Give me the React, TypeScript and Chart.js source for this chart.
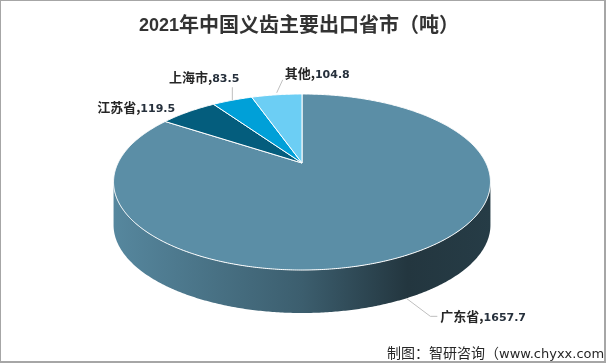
import React, { useEffect, useRef } from 'react';
import { Chart, registerables, ArcElement, PieController } from 'chart.js';

// ---- data ----
const TITLE_YEAR = '2021';
const TITLE_REST = '年中国义齿主要出口省市（吨）';
const SOURCE_CN = '制图：智研咨询（';
const SOURCE_URL = 'www.chyxx.com';
const SOURCE_END = '）';

const categories = ['广东省', '江苏省', '上海市', '其他'];
const values = [1657.7, 119.5, 83.5, 104.8];

// ---- styles ----
const sliceColors = ['#5b8ea6', '#045d7d', '#00a0d8', '#6ccef4'];
const TILT = 0.456; // vertical squash of the pie top
const PERSP = 0.216; // perspective strength (back smaller)
const DEPTH = 43; // pie thickness in px
const RADIUS = 184;

type LabelLayout = { leader: [number, number][] | null; dx: number; dy: number; align: 'left' | 'right' };
const labelLayouts: LabelLayout[] = [
  { leader: [[-3, 1], [21, 19], [28, 19]], dx: 31, dy: 19, align: 'left' },
  { leader: null, dx: -13, dy: -5, align: 'right' },
  { leader: [[0, 0], [0, -13]], dx: 7, dy: -23, align: 'right' },
  { leader: [[0, -2], [6, -15]], dx: 8, dy: -22, align: 'left' },
];

const NAME_FONT = "bold 13px 'Noto Sans CJK SC'";
const VALUE_FONT = "bold 11px 'DejaVu Sans'";
const TEXT_COLOR = '#262626';
const VALUE_COLOR = '#26303c';

function project(cx: number, cy: number, r: number, theta: number, dz = 0): [number, number] {
  const u = Math.sin(theta);
  const v = Math.cos(theta);
  const w = 1 + PERSP * v;
  return [cx + (r * u) / w, cy - (r * TILT * v) / w + dz];
}

function shade(hex: string, f: number): string {
  const n = parseInt(hex.slice(1), 16);
  const r = Math.round(((n >> 16) & 255) * f);
  const g = Math.round(((n >> 8) & 255) * f);
  const b = Math.round((n & 255) * f);
  return `rgb(${r},${g},${b})`;
}

class Arc3D extends ArcElement {
  static id = 'arc3d';
  draw(ctx: CanvasRenderingContext2D) {
    const p: any = (this as any).getProps(['x', 'y', 'startAngle', 'endAngle', 'outerRadius']);
    const o: any = (this as any).options;
    const a0 = p.startAngle + Math.PI / 2;
    const a1 = p.endAngle + Math.PI / 2;
    const n = Math.max(2, Math.ceil((a1 - a0) / (Math.PI / 360)));
    ctx.save();
    ctx.beginPath();
    ctx.moveTo(p.x, p.y);
    for (let i = 0; i <= n; i++) {
      const t = a0 + ((a1 - a0) * i) / n;
      const [px, py] = project(p.x, p.y, p.outerRadius, t);
      ctx.lineTo(px, py);
    }
    ctx.closePath();
    ctx.fillStyle = o.backgroundColor;
    ctx.fill();
    if (o.borderWidth) {
      ctx.lineWidth = o.borderWidth;
      ctx.strokeStyle = o.borderColor;
      ctx.lineJoin = 'round';
      ctx.stroke();
    }
    ctx.restore();
  }
}

class Pie3DController extends PieController {
  static id = 'pie3d';
  static defaults = { dataElementType: 'arc3d' };
}

Chart.register(...registerables, Arc3D as any, Pie3DController as any);

const sidePlugin = {
  id: 'side3d',
  beforeDatasetsDraw(chart: any) {
    const ctx: CanvasRenderingContext2D = chart.ctx;
    const meta = chart.getDatasetMeta(0);
    const lo = Math.acos(-PERSP);
    const hi = 2 * Math.PI - lo;
    meta.data.forEach((arc: any, i: number) => {
      const p = arc.getProps(['x', 'y', 'startAngle', 'endAngle', 'outerRadius']);
      const a = Math.max(p.startAngle + Math.PI / 2, lo);
      const b = Math.min(p.endAngle + Math.PI / 2, hi);
      if (b <= a) return;
      const ext = p.outerRadius / Math.sqrt(1 - PERSP * PERSP);
      const base = sliceColors[i];
      const g = ctx.createLinearGradient(p.x - ext, 0, p.x + ext, 0);
      g.addColorStop(0, shade(base, 0.95));
      g.addColorStop(0.5, shade(base, 0.66));
      g.addColorStop(0.78, shade(base, 0.38));
      g.addColorStop(1, shade(base, 0.42));
      const n = Math.max(2, Math.ceil((b - a) / (Math.PI / 360)));
      ctx.save();
      ctx.beginPath();
      for (let k = 0; k <= n; k++) {
        const t = a + ((b - a) * k) / n;
        const [px, py] = project(p.x, p.y, p.outerRadius, t);
        if (k === 0) ctx.moveTo(px, py);
        else ctx.lineTo(px, py);
      }
      for (let k = n; k >= 0; k--) {
        const t = a + ((b - a) * k) / n;
        const [px, py] = project(p.x, p.y, p.outerRadius, t, DEPTH);
        ctx.lineTo(px, py);
      }
      ctx.closePath();
      ctx.fillStyle = g;
      ctx.fill();
      ctx.restore();
    });
  },
};

const labelPlugin = {
  id: 'labels3d',
  afterDatasetsDraw(chart: any) {
    const ctx: CanvasRenderingContext2D = chart.ctx;
    const meta = chart.getDatasetMeta(0);
    meta.data.forEach((arc: any, i: number) => {
      const p = arc.getProps(['x', 'y', 'startAngle', 'endAngle', 'outerRadius']);
      const mid = (p.startAngle + p.endAngle) / 2 + Math.PI / 2;
      const front = Math.cos(mid) < 0;
      const [ax, ay] = project(p.x, p.y, p.outerRadius, mid, front ? DEPTH : 0);
      const L = labelLayouts[i];
      ctx.save();
      if (L.leader) {
        ctx.beginPath();
        L.leader.forEach(([dx, dy], k) => {
          if (k === 0) ctx.moveTo(ax + dx, ay + dy);
          else ctx.lineTo(ax + dx, ay + dy);
        });
        ctx.strokeStyle = '#bfbfbf';
        ctx.lineWidth = 1;
        ctx.stroke();
      }
      const name = categories[i] + ',';
      const val = values[i].toFixed(1);
      ctx.font = NAME_FONT;
      const wn = ctx.measureText(name).width;
      ctx.font = VALUE_FONT;
      const wv = ctx.measureText(val).width;
      let tx = ax + L.dx;
      if (L.align === 'right') tx -= wn + wv;
      const by = ay + L.dy + 5;
      ctx.textAlign = 'left';
      ctx.textBaseline = 'alphabetic';
      ctx.font = NAME_FONT;
      ctx.fillStyle = TEXT_COLOR;
      ctx.fillText(name, tx, by);
      ctx.font = VALUE_FONT;
      ctx.fillStyle = VALUE_COLOR;
      ctx.fillText(val, tx + wn, by);
      ctx.restore();
    });
  },
};

const framePlugin = {
  id: 'frame',
  afterDraw(chart: any) {
    const ctx: CanvasRenderingContext2D = chart.ctx;
    const W = chart.width;
    const H = chart.height;
    ctx.save();
    // title
    const yearFont = "bold 18px 'Liberation Sans'";
    const restFont = "bold 20px 'Noto Sans CJK SC'";
    ctx.font = yearFont;
    const wy = ctx.measureText(TITLE_YEAR).width;
    ctx.font = restFont;
    const wr = ctx.measureText(TITLE_REST).width;
    const tx = 299 - (wy + wr) / 2;
    ctx.textBaseline = 'alphabetic';
    ctx.textAlign = 'left';
    ctx.fillStyle = '#333333';
    ctx.font = yearFont;
    ctx.fillText(TITLE_YEAR, tx, 31);
    ctx.font = restFont;
    ctx.fillText(TITLE_REST, tx + wy, 32);
    // source
    const cnFont = "14px 'Noto Sans CJK SC'";
    const urlFont = "13px 'DejaVu Sans'";
    let sx = 387;
    const sy = 358;
    ctx.fillStyle = TEXT_COLOR;
    ctx.font = cnFont;
    ctx.fillText(SOURCE_CN, sx, sy);
    sx += ctx.measureText(SOURCE_CN).width;
    ctx.font = urlFont;
    ctx.fillText(SOURCE_URL, sx, sy);
    sx += ctx.measureText(SOURCE_URL).width;
    ctx.font = cnFont;
    ctx.fillText(SOURCE_END, sx, sy);
    // border
    ctx.fillStyle = '#a6a6a6';
    ctx.fillRect(0, 0, W, 1);
    ctx.fillRect(0, 0, 1, H);
    ctx.fillRect(W - 2, 0, 2, H);
    ctx.fillRect(0, H - 2, W, 2);
    ctx.restore();
  },
};

export default function App() {
  const ref = useRef<HTMLCanvasElement | null>(null);
  useEffect(() => {
    let chart: Chart | null = null;
    let cancelled = false;
    const fontsReady = (document as any).fonts
      ? Promise.all([
          (document as any).fonts.load("bold 20px 'Noto Sans CJK SC'", '中国'),
          (document as any).fonts.load("14px 'Noto Sans CJK SC'", '中国'),
          (document as any).fonts.load("bold 11px 'DejaVu Sans'", '1'),
          (document as any).fonts.load("13px 'DejaVu Sans'", 'w'),
          (document as any).fonts.load("bold 18px 'Liberation Sans'", '2'),
        ]).catch(() => null)
      : Promise.resolve(null);
    fontsReady.then(() => {
      if (cancelled || !ref.current) return;
      chart = new Chart(ref.current, {
        type: 'pie3d' as any,
        data: {
          labels: categories,
          datasets: [
            {
              data: values,
              backgroundColor: sliceColors,
              borderColor: '#ffffff',
              borderWidth: 1,
              radius: RADIUS,
              clip: false,
            } as any,
          ],
        },
        options: {
          responsive: false,
          animation: false,
          events: [],
          layout: { padding: { left: 0, right: 2, top: 0, bottom: 37 } },
          plugins: {
            legend: { display: false },
            tooltip: { enabled: false },
            title: { display: false },
          },
        } as any,
        plugins: [sidePlugin, labelPlugin, framePlugin],
      });
    });
    return () => {
      cancelled = true;
      if (chart) chart.destroy();
    };
  }, []);
  return (
    <div style={{ position: 'fixed', left: 0, top: 0, width: 606, height: 363, background: '#ffffff' }}>
      <canvas ref={ref} width={606} height={363} style={{ display: 'block', width: 606, height: 363 }} />
    </div>
  );
}
